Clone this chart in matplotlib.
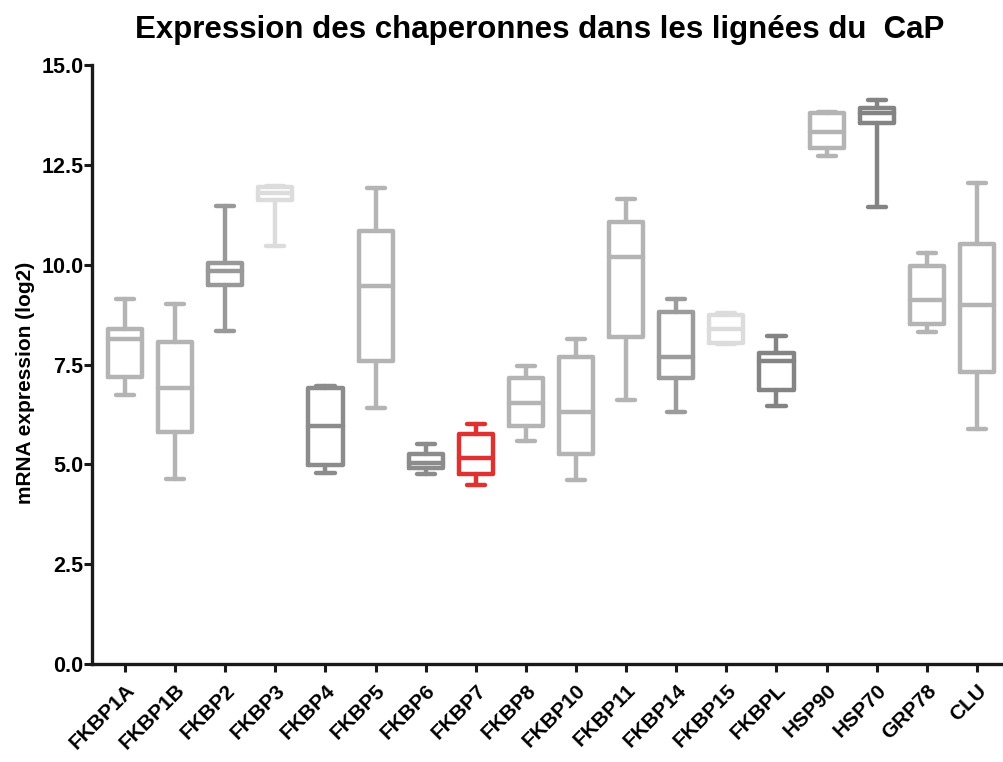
import matplotlib
matplotlib.use("Agg")
import matplotlib.pyplot as plt

plt.rcParams['font.family'] = ['Liberation Sans', 'DejaVu Sans']
plt.rcParams['font.weight'] = 'bold'

genes = ["FKBP1A", "FKBP1B", "FKBP2", "FKBP3", "FKBP4", "FKBP5", "FKBP6", "FKBP7",
         "FKBP8", "FKBP10", "FKBP11", "FKBP14", "FKBP15", "FKBPL", "HSP90", "HSP70",
         "GRP78", "CLU"]

# min, q1, median, q3, max
whislo = [6.73, 4.63, 8.35, 10.47, 4.79, 6.41, 4.75, 4.48, 5.58, 4.61, 6.61, 6.30, 8.01, 6.47, 12.71, 11.44, 8.31, 5.89]
q1     = [7.19, 5.82, 9.49, 11.62, 4.98, 7.60, 4.90, 4.76, 5.97, 5.25, 8.20, 7.15, 8.05, 6.86, 12.91, 13.54, 8.51, 7.32]
med    = [8.15, 6.90, 9.85, 11.80, 5.96, 9.47, 5.04, 5.15, 6.53, 6.30, 10.20, 7.70, 8.38, 7.60, 13.33, 13.80, 9.12, 8.98]
q3     = [8.39, 8.07, 10.05, 11.95, 6.90, 10.85, 5.26, 5.76, 7.15, 7.70, 11.06, 8.81, 8.74, 7.80, 13.79, 13.92, 9.97, 10.51]
whishi = [9.14, 9.02, 11.47, 11.97, 6.97, 11.91, 5.51, 6.01, 7.45, 8.14, 11.64, 9.15, 8.80, 8.21, 13.83, 14.12, 10.30, 12.04]

colors = ["#b4b4b4", "#b4b4b4", "#999999", "#dcdcdc", "#8c8c8c", "#b4b4b4", "#8c8c8c", "#e03131",
          "#b4b4b4", "#b4b4b4", "#b4b4b4", "#9c9c9c", "#dcdcdc", "#848484", "#b4b4b4", "#848484",
          "#b4b4b4", "#b4b4b4"]

fig = plt.figure(figsize=(10.04, 7.62), dpi=100)
ax = fig.add_axes([0.0916, 0.1286, 0.9074, 0.7861])

for i, g in enumerate(genes):
    stats = [dict(whislo=whislo[i], q1=q1[i], med=med[i], q3=q3[i], whishi=whishi[i], label=g)]
    c = colors[i]
    ls = dict(color=c, linewidth=3.2, solid_capstyle='round', solid_joinstyle='round')
    ax.bxp(stats, positions=[i + 1], widths=0.68, capwidths=0.36, showfliers=False,
           boxprops=ls, whiskerprops=ls, capprops=ls, medianprops=ls)

ax.set_xlim(0.34, 18.52)
ax.set_ylim(0, 15)
ax.set_yticks([0, 2.5, 5, 7.5, 10, 12.5, 15])
ax.set_yticklabels(["0.0", "2.5", "5.0", "7.5", "10.0", "12.5", "15.0"])
ax.set_xticks(range(1, len(genes) + 1))
ax.set_xticklabels(genes, rotation=45, ha='right', rotation_mode='anchor')

for s in ['top', 'right']:
    ax.spines[s].set_visible(False)
for s in ['left', 'bottom']:
    ax.spines[s].set_linewidth(2.4)
    ax.spines[s].set_color('#1a1a1a')
ax.tick_params(axis='both', direction='out', length=6, width=2.2, color='#1a1a1a')
ax.tick_params(axis='y', labelsize=15.5, pad=0)
ax.tick_params(axis='x', labelsize=15, pad=6)

ax.set_ylabel("mRNA expression (log2)", fontsize=15, fontweight='bold')
ax.yaxis.set_label_coords(-0.062, 0.469)
fig.text(0.538, 0.950, "Expression des chaperonnes dans les lignées du  CaP",
         ha='center', va='baseline', fontsize=22.5, fontweight='bold')

fig.savefig("out.png", dpi=100)
